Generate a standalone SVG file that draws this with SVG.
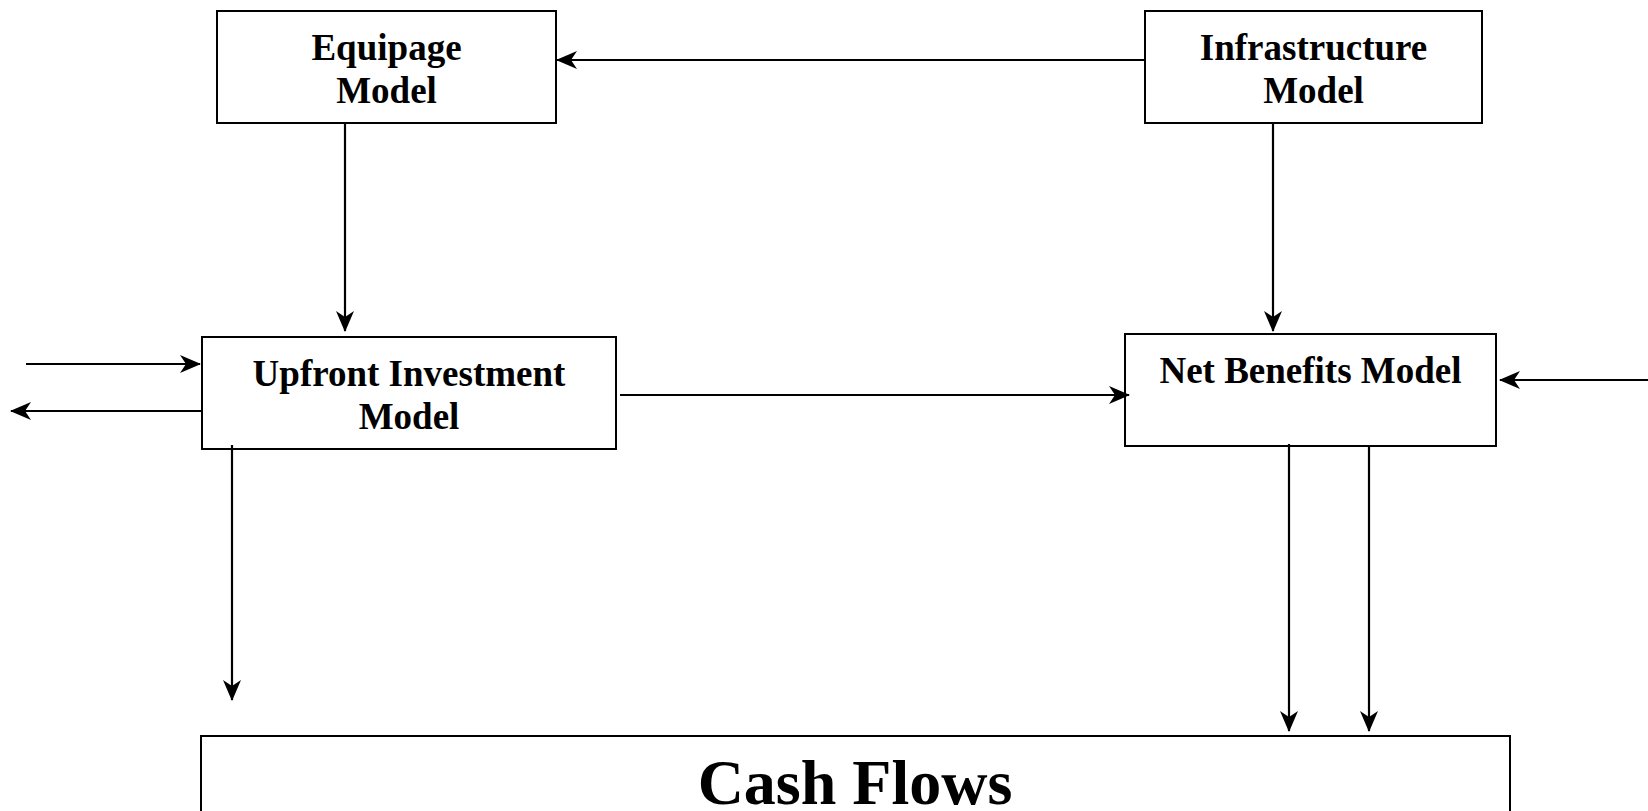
<svg xmlns="http://www.w3.org/2000/svg" width="1648" height="811" viewBox="0 0 1648 811">
<style>
.box{fill:#fff;stroke:#000;stroke-width:2}
.t{font-family:"Liberation Serif","Times New Roman",serif;font-weight:bold;font-size:37px;text-anchor:middle;fill:#000}
.big{font-size:64px}
.c{fill:none;stroke:#000;stroke-width:2.2;marker-end:url(#ah)}
</style>
<defs>
<marker id="ah" viewBox="0 0 22 18" refX="21" refY="9" markerWidth="22" markerHeight="18" markerUnits="userSpaceOnUse" orient="auto">
<path d="M22,9 L1,0 L7,9 L1,18 Z" fill="#000"/>
</marker>
</defs>
<rect width="1648" height="811" fill="#fff"/>
<g id="equipage"><rect class="box" x="217" y="11" width="339" height="112"/><text class="t" x="386.5" y="60">Equipage</text><text class="t" x="386.5" y="103">Model</text></g>
<g id="infrastructure"><rect class="box" x="1145" y="11" width="337" height="112"/><text class="t" x="1313.5" y="60">Infrastructure</text><text class="t" x="1313.5" y="103">Model</text></g>
<g id="upfront"><rect class="box" x="202" y="337" width="414" height="112"/><text class="t" x="409" y="386">Upfront Investment</text><text class="t" x="409" y="429">Model</text></g>
<g id="netbenefits"><rect class="box" x="1125" y="334" width="371" height="112"/><text class="t" x="1310.5" y="383">Net Benefits Model</text></g>
<g id="cashflows"><rect class="box" x="201" y="736" width="1309" height="100"/><text class="t big" x="855" y="804">Cash Flows</text></g>
<g id="connectors">
<path class="c" d="M1145,60 H557"/>
<path class="c" d="M345,123 V331"/>
<path class="c" d="M1273,123 V331"/>
<path class="c" d="M620,395 H1129"/>
<path class="c" d="M26,364 H200"/>
<path class="c" d="M202,411 H11"/>
<path class="c" d="M232,445 V700"/>
<path class="c" d="M1648,380 H1500"/>
<path class="c" d="M1289,444 V731"/>
<path class="c" d="M1369,446 V731"/>
</g>
</svg>
